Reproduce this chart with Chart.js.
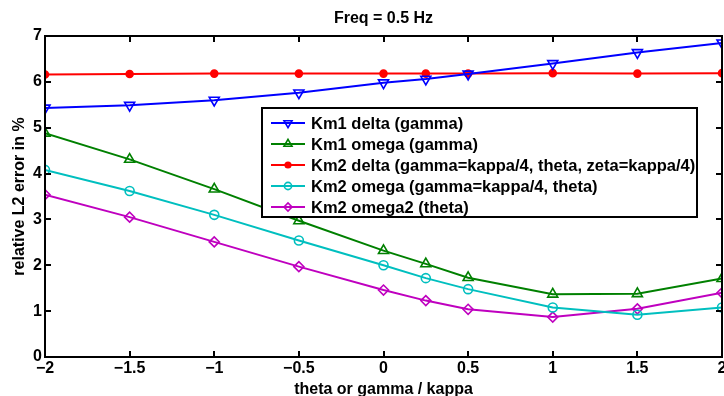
<!DOCTYPE html>
<html>
<head>
<meta charset="utf-8">
<script src="https://cdn.jsdelivr.net/npm/chart.js@4.4.1/dist/chart.umd.min.js"></script>
<style>
  body { margin: 0; background: #fff; }
  canvas { display: block; }
</style>
</head>
<body>
<canvas id="errChart" width="724" height="396"></canvas>
<script>
// theta or gamma / kappa
const xVals = [-2, -1.5, -1, -0.5, 0, 0.25, 0.5, 1, 1.5, 2];

// relative L2 error in %
const km1Delta  = [5.43, 5.49, 5.60, 5.76, 5.98, 6.06, 6.17, 6.40, 6.64, 6.85];
const km1Omega  = [4.88, 4.31, 3.66, 2.97, 2.32, 2.03, 1.73, 1.37, 1.38, 1.71];
const km2Delta  = [6.16, 6.17, 6.18, 6.18, 6.18, 6.18, 6.18, 6.19, 6.18, 6.19];
const km2Omega  = [4.08, 3.62, 3.10, 2.54, 2.00, 1.72, 1.48, 1.08, 0.92, 1.08];
const km2Omega2 = [3.54, 3.05, 2.51, 1.97, 1.46, 1.23, 1.04, 0.87, 1.05, 1.40];

const seriesLabels = [
    "Km1 delta (gamma)",
    "Km1 omega (gamma)",
    "Km2 delta (gamma=kappa/4, theta, zeta=kappa/4)",
    "Km2 omega (gamma=kappa/4, theta)",
    "Km2 omega2 (theta)"
];

const FONT = '"Liberation Sans", Arial, Helvetica, sans-serif';
const NONE = "rgba(0,0,0,0)";

function toPoints(ys) {
    return xVals.map((x, i) => ({ x: x, y: ys[i] }));
}

function series(label, ys, color, style, radius, rotation, filled) {
    return {
        label: label,
        data: toPoints(ys),
        borderColor: color,
        backgroundColor: filled ? color : NONE,
        borderWidth: 2,
        pointStyle: style,
        pointRadius: radius,
        pointRotation: rotation,
        pointBorderWidth: 1.6,
        pointBorderColor: color,
        pointBackgroundColor: filled ? color : NONE,
        tension: 0
    };
}

const datasets = [
    series(seriesLabels[0], km1Delta,  "#0000ff", "triangle", 5.8, 180, false),
    series(seriesLabels[1], km1Omega,  "#008000", "triangle", 5.8, 0, false),
    series(seriesLabels[2], km2Delta,  "#ff0000", "circle",   3.5, 0, true),
    series(seriesLabels[3], km2Omega,  "#00bfbf", "circle",   4.5, 0, false),
    series(seriesLabels[4], km2Omega2, "#bf00bf", "rectRot",  5,   0, false)
];

const fmtTick = v => String(v).replace("-", "\u2212");

// frame, inward ticks, x tick labels, titles and the boxed legend
const framePlugin = {
    id: "frame",
    afterDatasetsDraw(chart) {
        const ctx = chart.ctx;
        const a = chart.chartArea;
        const xs = chart.scales.x, ys = chart.scales.y;
        const tick = 6;
        ctx.save();
        ctx.strokeStyle = "#000";
        ctx.lineWidth = 2;
        ctx.beginPath();
        xs.ticks.forEach(t => {
            const px = Math.round(xs.getPixelForValue(t.value));
            ctx.moveTo(px, a.bottom); ctx.lineTo(px, a.bottom - tick);
            ctx.moveTo(px, a.top); ctx.lineTo(px, a.top + tick);
        });
        ys.ticks.forEach(t => {
            const py = Math.round(ys.getPixelForValue(t.value));
            ctx.moveTo(a.left, py); ctx.lineTo(a.left + tick, py);
            ctx.moveTo(a.right, py); ctx.lineTo(a.right - tick, py);
        });
        ctx.stroke();
        ctx.strokeRect(a.left, a.top, a.right - a.left, a.bottom - a.top);

        ctx.fillStyle = "#000";
        ctx.font = "bold 16px " + FONT;
        ctx.textAlign = "center";
        ctx.textBaseline = "top";
        xs.ticks.forEach(t => {
            ctx.fillText(fmtTick(t.value), xs.getPixelForValue(t.value), a.bottom + 4);
        });

        const cx = (a.left + a.right) / 2;
        ctx.textBaseline = "alphabetic";
        ctx.fillText("theta or gamma / kappa", cx, 394);
        ctx.fillText("Freq = 0.5 Hz", cx, 23);

        ctx.save();
        ctx.translate(24, (a.top + a.bottom) / 2);
        ctx.rotate(-Math.PI / 2);
        ctx.fillText("relative L2 error in %", 0, 0);
        ctx.restore();

        // legend
        const box = { left: 262, top: 108, width: 435, height: 109 };
        ctx.fillStyle = "#fff";
        ctx.fillRect(box.left, box.top, box.width, box.height);
        ctx.lineWidth = 2;
        ctx.strokeRect(box.left, box.top, box.width, box.height);
        ctx.font = "bold 16.5px " + FONT;
        ctx.textAlign = "left";
        ctx.textBaseline = "middle";
        chart.data.datasets.forEach((ds, i) => {
            const y = box.top + 15 + i * 21;
            ctx.strokeStyle = ds.borderColor;
            ctx.lineWidth = 2;
            ctx.beginPath();
            ctx.moveTo(271, y);
            ctx.lineTo(305, y);
            ctx.stroke();
            ctx.fillStyle = ds.pointBackgroundColor;
            ctx.lineWidth = ds.pointBorderWidth;
            Chart.helpers.drawPoint(ctx, {
                pointStyle: ds.pointStyle,
                rotation: ds.pointRotation,
                radius: ds.pointRadius * 0.8,
                borderWidth: ds.pointBorderWidth
            }, 288, y);
            ctx.fillStyle = "#000";
            ctx.fillText(ds.label, 311, y + 1);
        });
        ctx.restore();
    }
};

new Chart(document.getElementById("errChart").getContext("2d"), {
    type: "line",
    data: { datasets: datasets },
    options: {
        responsive: false,
        animation: false,
        layout: { autoPadding: false, padding: { top: 36, right: 2, left: 0, bottom: 0 } },
        plugins: {
            legend: { display: false },
            title: { display: false },
            tooltip: { enabled: false }
        },
        scales: {
            x: {
                type: "linear",
                min: -2,
                max: 2,
                ticks: { display: false, stepSize: 0.5 },
                grid: { display: false },
                border: { display: false },
                afterFit(scale) { scale.height = 39; }
            },
            y: {
                min: 0,
                max: 7,
                ticks: {
                    stepSize: 1,
                    padding: 3,
                    color: "#000",
                    font: { family: FONT, size: 16, weight: "bold" }
                },
                grid: { display: false, drawTicks: false },
                border: { display: false },
                afterFit(scale) { scale.width = 45; }
            }
        }
    },
    plugins: [framePlugin]
});
</script>
</body>
</html>
